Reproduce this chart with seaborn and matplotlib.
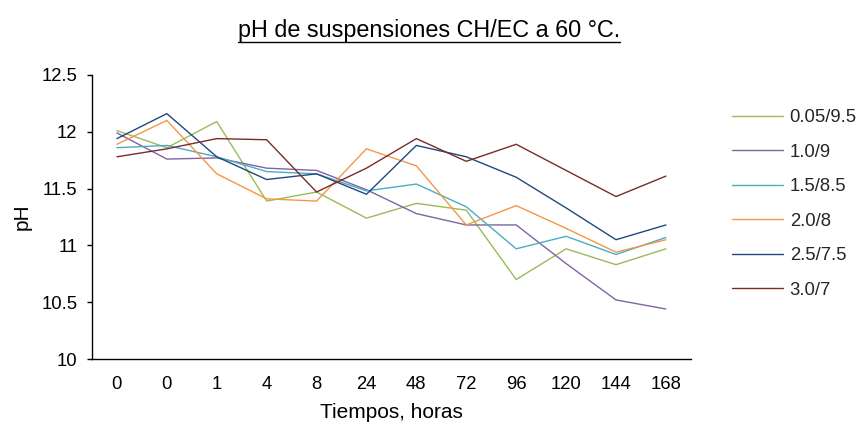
import matplotlib
matplotlib.use("Agg")
import matplotlib.pyplot as plt
import seaborn as sns
import pandas as pd
from matplotlib.lines import Line2D

tiempos = ["0", "0", "1", "4", "8", "24", "48", "72", "96", "120", "144", "168"]
series_names = ["0.05/9.5", "1.0/9", "1.5/8.5", "2.0/8", "2.5/7.5", "3.0/7"]
s_005_95 = [12.01, 11.86, 12.09, 11.39, 11.47, 11.24, 11.37, 11.31, 10.70, 10.97, 10.83, 10.97]
s_10_9 = [11.99, 11.76, 11.77, 11.68, 11.66, 11.49, 11.28, 11.18, 11.18, 10.84, 10.52, 10.44]
s_15_85 = [11.86, 11.88, 11.78, 11.65, 11.63, 11.48, 11.54, 11.34, 10.97, 11.08, 10.92, 11.07]
s_20_8 = [11.89, 12.10, 11.63, 11.41, 11.39, 11.85, 11.70, 11.18, 11.35, 11.15, 10.94, 11.05]
s_25_75 = [11.94, 12.16, 11.78, 11.58, 11.63, 11.45, 11.88, 11.78, 11.60, 11.33, 11.05, 11.18]
s_30_7 = [11.78, 11.85, 11.94, 11.93, 11.47, 11.68, 11.94, 11.74, 11.89, 11.66, 11.43, 11.61]
colors = ["#9BBB59", "#8064A2", "#4BACC6", "#F79646", "#1F497D", "#772C2A"]

all_series = [s_005_95, s_10_9, s_15_85, s_20_8, s_25_75, s_30_7]
rows = []
for name, vals in zip(series_names, all_series):
    for i, v in enumerate(vals):
        rows.append({"pos": i, "pH": v, "serie": name})
df = pd.DataFrame(rows)

sns.set_theme(style="white")
plt.rcParams["font.family"] = ["Liberation Sans", "DejaVu Sans"]

fig = plt.figure(figsize=(8.58, 4.23), dpi=100)
ax = fig.add_axes([0.1072, 0.1513, 0.698, 0.6714])

sns.lineplot(data=df, x="pos", y="pH", hue="serie", hue_order=series_names,
             palette=colors, linewidth=1.0, ax=ax, legend=False, sort=False)

ax.set_xlim(-0.5, 11.5)
ax.set_ylim(10, 12.5)
ax.set_xticks(range(len(tiempos)))
ax.set_xticklabels(tiempos)
ax.set_yticks([10, 10.5, 11, 11.5, 12, 12.5])
ax.set_yticklabels(["10", "10.5", "11", "11.5", "12", "12.5"])
ax.tick_params(axis="x", length=0, labelsize=13.3, pad=12.5, colors="black")
ax.tick_params(axis="y", length=3.6, width=1, direction="out", labelsize=13.3, pad=7,
               colors="black", left=True)
for sp in ["top", "right"]:
    ax.spines[sp].set_visible(False)
for sp in ["left", "bottom"]:
    ax.spines[sp].set_color("black")
    ax.spines[sp].set_linewidth(1.0)
ax.set_xlabel("Tiempos, horas", fontsize=15, color="black")
ax.set_ylabel("pH", fontsize=15, color="black")
ax.xaxis.set_label_coords(0.5, -0.155)
ax.yaxis.set_label_coords(-0.100, 0.5)

handles = [Line2D([0], [0], color=c, lw=1.0) for c in colors]
fig.legend(handles, series_names, loc="upper left", bbox_to_anchor=(0.853, 0.742),
           frameon=False, fontsize=13.3, handlelength=2.75, handletextpad=0.38,
           labelspacing=0.95, borderaxespad=0, borderpad=0)

t = fig.text(0.5, 0.927, "pH de suspensiones CH/EC a 60 °C.", ha="center", va="center",
             fontsize=16.8, color="black")
fig.canvas.draw()
bb = t.get_window_extent().transformed(fig.transFigure.inverted())
fig.add_artist(Line2D([bb.x0, bb.x1], [bb.y0 + 0.002, bb.y0 + 0.002],
                      transform=fig.transFigure, color="black", lw=1.0))

fig.savefig("out.png", dpi=100, facecolor="white")
